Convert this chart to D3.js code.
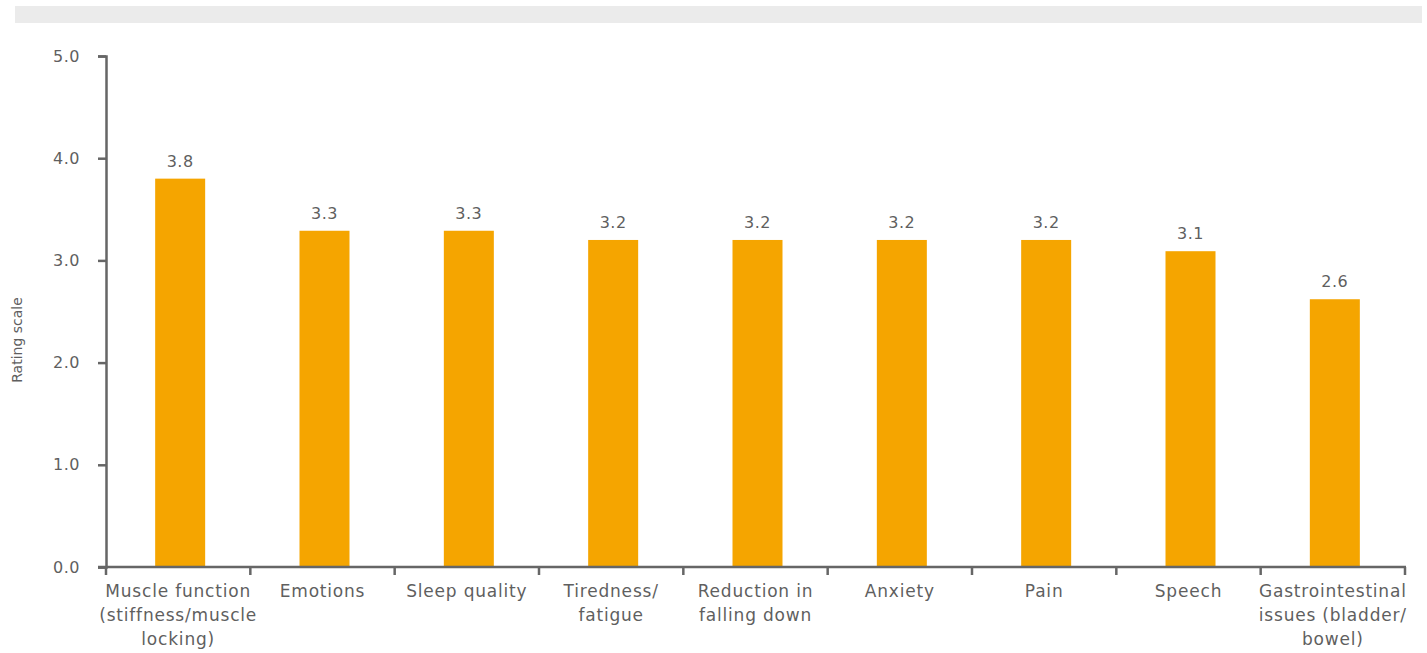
<!DOCTYPE html>
<html>
<head>
<meta charset="utf-8">
<script src="https://cdn.jsdelivr.net/npm/d3@7"></script>
<style>
  body { margin: 0; background: #fff; }
  svg text { font-family: "DejaVu Sans", sans-serif; fill: #5f5f5f; }
</style>
</head>
<body>
<svg id="vis"></svg>
<script>
var categories = [
    ["Muscle function", "(stiffness/muscle", "locking)"],
    ["Emotions"],
    ["Sleep quality"],
    ["Tiredness/", "fatigue"],
    ["Reduction in", "falling down"],
    ["Anxiety"],
    ["Pain"],
    ["Speech"],
    ["Gastrointestinal", "issues (bladder/", "bowel)"]
];
var values = [3.8, 3.29, 3.29, 3.2, 3.2, 3.2, 3.2, 3.09, 2.62];
var yTicks = [0, 1, 2, 3, 4, 5];

var W = 1427, H = 653;
var plotLeft = 106, plotRight = 1405, plotTop = 56, plotBottom = 567;

var svg = d3.select("#vis").attr("width", W).attr("height", H);

// grey band on top
svg.append("rect")
    .attr("x", 15).attr("y", 6)
    .attr("width", 1407).attr("height", 17)
    .attr("fill", "#ebebeb");

var x = d3.scaleBand()
    .domain(d3.range(categories.length))
    .range([plotLeft, plotRight])
    .padding(0);

var y = d3.scaleLinear()
    .domain([0, 5])
    .range([plotBottom, plotTop]);

// bars
var barW = 50;
svg.append("g").selectAll("rect")
    .data(values)
    .enter().append("rect")
    .attr("x", function(d, i) { return x(i) + x.bandwidth() / 2 - barW / 2 + 2; })
    .attr("y", function(d) { return y(d); })
    .attr("width", barW)
    .attr("height", function(d) { return y(0) - y(d); })
    .attr("fill", "#f5a500");

// value labels
svg.append("g").selectAll("text")
    .data(values)
    .enter().append("text")
    .text(function(d) { return d.toFixed(1); })
    .attr("x", function(d, i) { return x(i) + x.bandwidth() / 2 + 2; })
    .attr("y", function(d) { return y(d) - 12; })
    .attr("text-anchor", "middle")
    .attr("font-size", 16)
    .attr("letter-spacing", 0.5);

// y axis
var yAxis = svg.append("g")
    .attr("transform", "translate(" + plotLeft + ",0)")
    .call(d3.axisLeft(y).tickValues(yTicks).tickFormat(d3.format(".1f")).tickSize(8).tickPadding(18));
yAxis.select(".domain").attr("stroke", "#666").attr("stroke-width", 2.5);
yAxis.selectAll(".tick line").attr("stroke", "#666").attr("stroke-width", 2.5);
yAxis.selectAll(".tick text").attr("font-size", 16).attr("fill", "#5f5f5f")
    .attr("letter-spacing", 0.5)
    .attr("font-family", "\"DejaVu Sans\", sans-serif");

// x axis with ticks at band boundaries
var xg = svg.append("g");
xg.append("line")
    .attr("x1", plotLeft - 8).attr("x2", plotRight + 1)
    .attr("y1", plotBottom).attr("y2", plotBottom)
    .attr("stroke", "#666").attr("stroke-width", 2.5);
xg.selectAll(".xt")
    .data(d3.range(categories.length + 1))
    .enter().append("line")
    .attr("x1", function(i) { return plotLeft + i * x.step(); })
    .attr("x2", function(i) { return plotLeft + i * x.step(); })
    .attr("y1", plotBottom).attr("y2", plotBottom + 8)
    .attr("stroke", "#666").attr("stroke-width", 2.5);

// category labels
var lab = svg.append("g").selectAll("text")
    .data(categories)
    .enter().append("text")
    .attr("text-anchor", "middle")
    .attr("font-size", 17)
    .attr("letter-spacing", 0.8)
    .attr("x", function(d, i) { return x(i) + x.bandwidth() / 2; })
    .attr("y", 597);
lab.selectAll("tspan")
    .data(function(d) { return d; })
    .enter().append("tspan")
    .attr("x", function() { return d3.select(this.parentNode).attr("x"); })
    .attr("dy", function(d, i) { return i === 0 ? 0 : 24; })
    .text(function(d) { return d; });

// y axis title
svg.append("text")
    .text("Rating scale")
    .attr("transform", "translate(22,340) rotate(-90)")
    .attr("text-anchor", "middle")
    .attr("font-size", 14);
</script>
</body>
</html>
